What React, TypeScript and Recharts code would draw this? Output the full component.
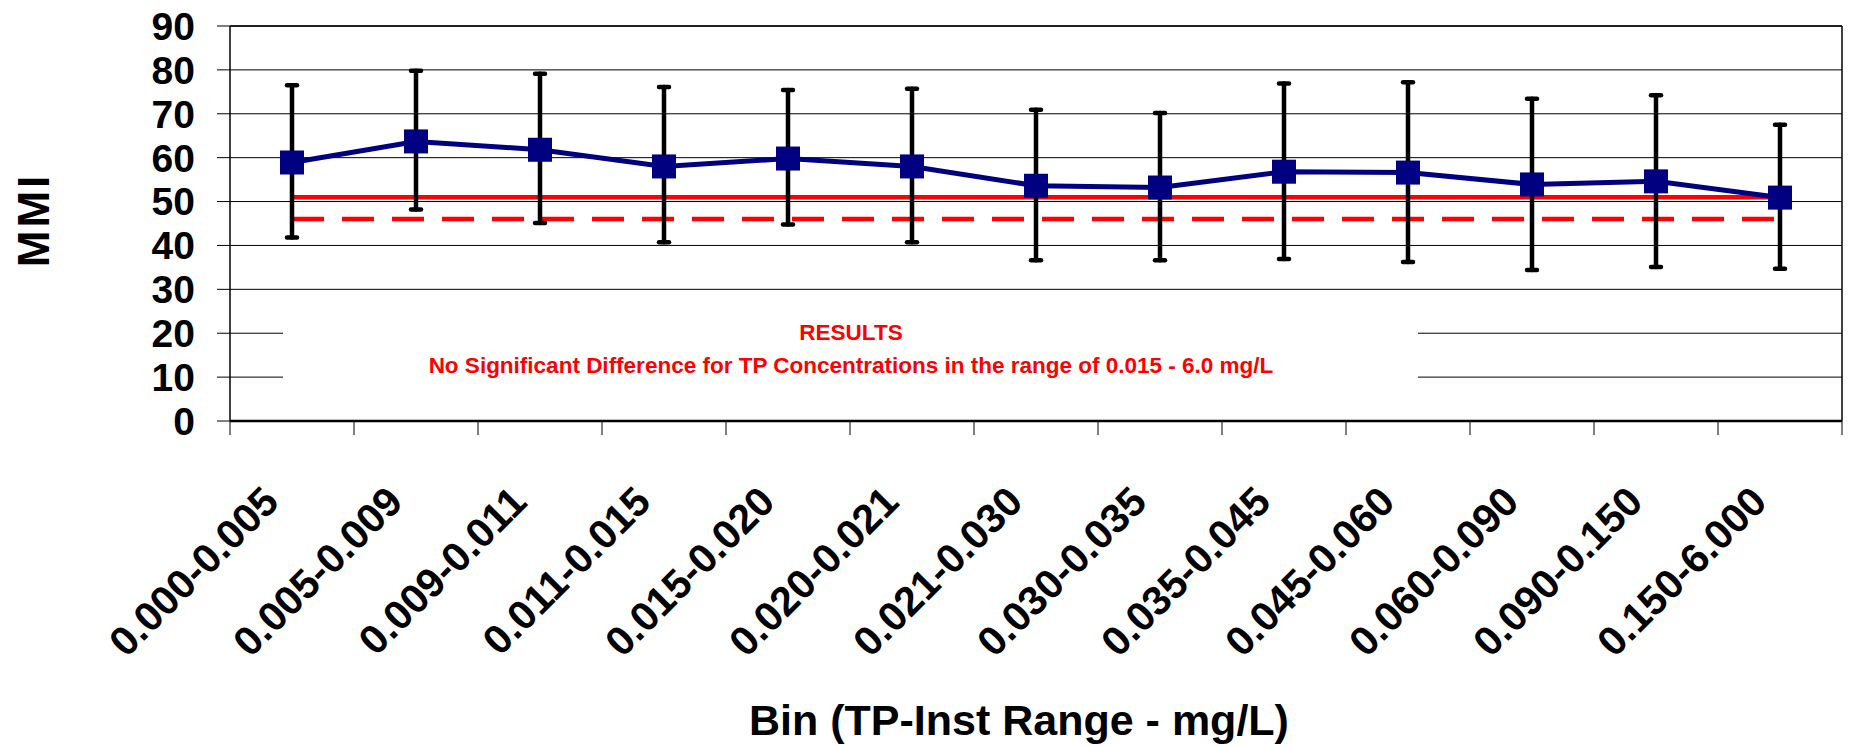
import { LineChart, Line, XAxis, YAxis, CartesianGrid, ErrorBar, ReferenceLine } from 'recharts';

const bins = [
  '0.000-0.005', '0.005-0.009', '0.009-0.011', '0.011-0.015', '0.015-0.020', '0.020-0.021',
  '0.021-0.030', '0.030-0.035', '0.035-0.045', '0.045-0.060', '0.060-0.090', '0.090-0.150', '0.150-6.000',
];
const mmiMean = [58.9, 63.7, 61.8, 58.0, 59.8, 58.0, 53.6, 53.2, 56.8, 56.6, 53.9, 54.6, 50.9];
const mmiHigh = [76.5, 79.8, 79.1, 76.1, 75.4, 75.7, 70.9, 70.2, 76.9, 77.2, 73.4, 74.2, 67.5];
const mmiLow = [41.8, 48.2, 45.1, 40.7, 44.8, 40.7, 36.6, 36.6, 36.9, 36.2, 34.4, 35.1, 34.7];
const solidLevel = 51;
const dashedLevel = 46;
const yTicks = [0, 10, 20, 30, 40, 50, 60, 70, 80, 90];

const FONT = '"Liberation Sans", Arial, Helvetica, sans-serif';

const data = bins.map((bin, i) => ({
  pos: i + 0.5,
  bin,
  mmi: mmiMean[i],
  err: [mmiMean[i] - mmiLow[i], mmiHigh[i] - mmiMean[i]],
  solid: solidLevel,
  dashed: dashedLevel,
}));

// tick marks sit on the bin edges, labels on the bin centres
const edgeTicks = bins.map((_, i) => i).concat(bins.length);
const xTicks = [...edgeTicks, ...data.map((d) => d.pos)].sort((a, b) => a - b);

function BinTick({ x, y, payload }: any) {
  const v = payload.value;
  if (Number.isInteger(v)) {
    return <line x1={x} y1={y} x2={x} y2={y + 14} stroke="#000" strokeWidth={1} />;
  }
  const ax = x - 11;
  const ay = y + 83;
  return (
    <text
      x={ax}
      y={ay}
      transform={`rotate(-45 ${ax} ${ay})`}
      textAnchor="end"
      fontFamily={FONT}
      fontWeight="bold"
      fontSize={41}
      fill="#000"
    >
      {bins[Math.floor(v)]}
    </text>
  );
}

function SquareDot({ cx, cy }: any) {
  if (cx == null || cy == null) return null;
  return <rect x={cx - 12} y={cy - 12} width={24} height={24} fill="#000080" />;
}

export default function App() {
  return (
    <div style={{ position: 'absolute', left: 0, top: 0, width: 1849, height: 746, background: '#fff' }}>
      <LineChart width={1849} height={746} data={data} margin={{ top: 26, right: 7, bottom: 0, left: 0 }}>
        <CartesianGrid vertical={false} stroke="#000" strokeWidth={1} />
        <XAxis
          dataKey="pos"
          type="number"
          domain={[0, bins.length]}
          ticks={xTicks}
          interval={0}
          tick={<BinTick />}
          tickLine={false}
          tickSize={0}
          tickMargin={0}
          height={325}
          axisLine={{ stroke: '#000', strokeWidth: 2.5 }}
        />
        <YAxis
          type="number"
          domain={[0, 90]}
          ticks={yTicks}
          interval={0}
          width={230}
          tickSize={13}
          tickMargin={22}
          tickLine={{ stroke: '#000', strokeWidth: 1 }}
          axisLine={{ stroke: '#000', strokeWidth: 1.5 }}
          tick={{ fill: '#000', fontFamily: FONT, fontWeight: 'bold', fontSize: 39 }}
        />
        <ReferenceLine x={bins.length} stroke="#000" strokeWidth={1.5} />
        <ReferenceLine y={90} stroke="#000" strokeWidth={1.5} />
        <Line
          dataKey="solid"
          type="linear"
          stroke="#ff0000"
          strokeWidth={4.5}
          dot={false}
          activeDot={false}
          isAnimationActive={false}
        />
        <Line
          dataKey="dashed"
          type="linear"
          stroke="#ff0000"
          strokeWidth={4.5}
          strokeDasharray="32 18"
          dot={false}
          activeDot={false}
          isAnimationActive={false}
        />
        <Line
          dataKey="mmi"
          type="linear"
          stroke="#000080"
          strokeWidth={5}
          dot={<SquareDot />}
          activeDot={false}
          isAnimationActive={false}
        >
          <ErrorBar dataKey="err" direction="y" width={5} stroke="#000" strokeWidth={4.5} strokeLinecap="round" />
        </Line>
      </LineChart>
      <svg
        width={1849}
        height={746}
        style={{ position: 'absolute', left: 0, top: 0, pointerEvents: 'none' }}
        fontFamily={FONT}
        fontWeight="bold"
      >
        <rect x={283} y={300} width={1135} height={100} fill="#fff" />
        <text x={851} y={340} textAnchor="middle" fontSize={22.5} fill="#ff0000">
          RESULTS
        </text>
        <text x={851} y={372.5} textAnchor="middle" fontSize={22.5} fill="#ff0000">
          No Significant Difference for TP Concentrations in the range of 0.015 - 6.0 mg/L
        </text>
        <text
          x={49}
          y={220}
          transform="rotate(-90 49 220)"
          textAnchor="middle"
          fontSize={44}
          letterSpacing={3}
          fill="#000"
        >
          MMI
        </text>
        <text x={1019} y={735} textAnchor="middle" fontSize={43} fill="#000">
          Bin (TP-Inst Range - mg/L)
        </text>
      </svg>
    </div>
  );
}
